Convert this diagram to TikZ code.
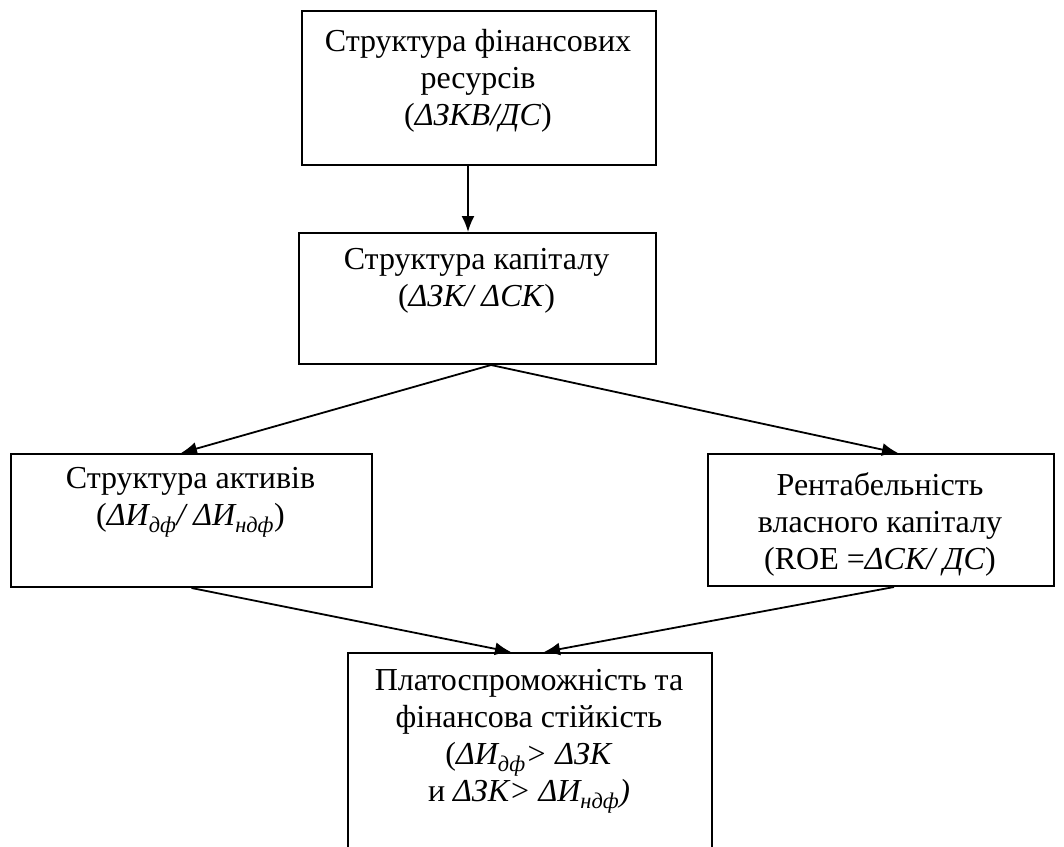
\documentclass[tikz,border=0pt]{standalone}
\usepackage{fontspec}
\setmainfont{Liberation Serif}
\usetikzlibrary{arrows.meta,calc}
\newcommand{\subit}[1]{\textsubscript{\textit{#1}}}
\begin{document}
\begin{tikzpicture}[x=1pt,y=-1pt,
  box/.style={draw,line width=2pt,inner sep=0pt,anchor=north west},
  txt/.style={align=center,inner sep=0pt,font=\fontsize{32}{37}\selectfont},
  conn/.style={line width=1.8pt,-{Latex[length=16pt,width=13pt]}}]
\useasboundingbox (0,0) rectangle (1064,846);
\clip (0,0) rectangle (1064,846);

% boxes
\node[box,minimum width=354pt,minimum height=154pt] (b1) at (301,10) {};
\node[box,minimum width=357pt,minimum height=131pt] (b2) at (298,232) {};
\node[box,minimum width=361pt,minimum height=133pt] (b3) at (10,453) {};
\node[box,minimum width=346pt,minimum height=132pt] (b4) at (707,453) {};
\node[box,minimum width=364pt,minimum height=240pt] (b5) at (347,652) {};

% texts
\node[txt] (t1) at (478,81) {Структура фінансових\\ресурсів\\(\textit{ΔЗКВ/ДС})};
\node[txt] (t2) at (476.5,281) {Структура капіталу\\(\textit{ΔЗК/ ΔСК})};
\node[txt] (t3) at (190.5,502) {Структура активів\\(\textit{ΔИ\subit{дф}/ ΔИ\subit{ндф}})};
\node[txt] (t4) at (880,524) {Рентабельність\\власного капіталу\\(ROE =\textit{ΔСК/ ДС})};
\node[txt] (t5) at (529,741) {Платоспроможність та\\фінансова стійкість\\(\textit{ΔИ\subit{дф}> ΔЗК}\\и \textit{ΔЗК> ΔИ\subit{ндф})}};

% connectors
\coordinate (s1) at ($(b1.south)+(-11,0)$);
\coordinate (e2) at ($(b2.north)+(-9.5,0)$);
\coordinate (s2) at ($(b2.south)+(13.5,0)$);
\coordinate (e3) at ($(b3.north)+(-10.5,0)$);
\coordinate (e4) at ($(b4.north)+(17,0)$);
\coordinate (s3) at ($(b3.south)+(0,0)$);
\coordinate (s4) at ($(b4.south)+(13,0)$);
\coordinate (e5a) at ($(b5.north)+(-19,0)$);
\coordinate (e5b) at ($(b5.north)+(14,0)$);

\draw[conn] (s1) -- (e2);
\draw[conn] (s2) -- (e3);
\draw[conn] (s2) -- (e4);
\draw[conn] (s3) -- (e5a);
\draw[conn] (s4) -- (e5b);
\end{tikzpicture}
\end{document}
